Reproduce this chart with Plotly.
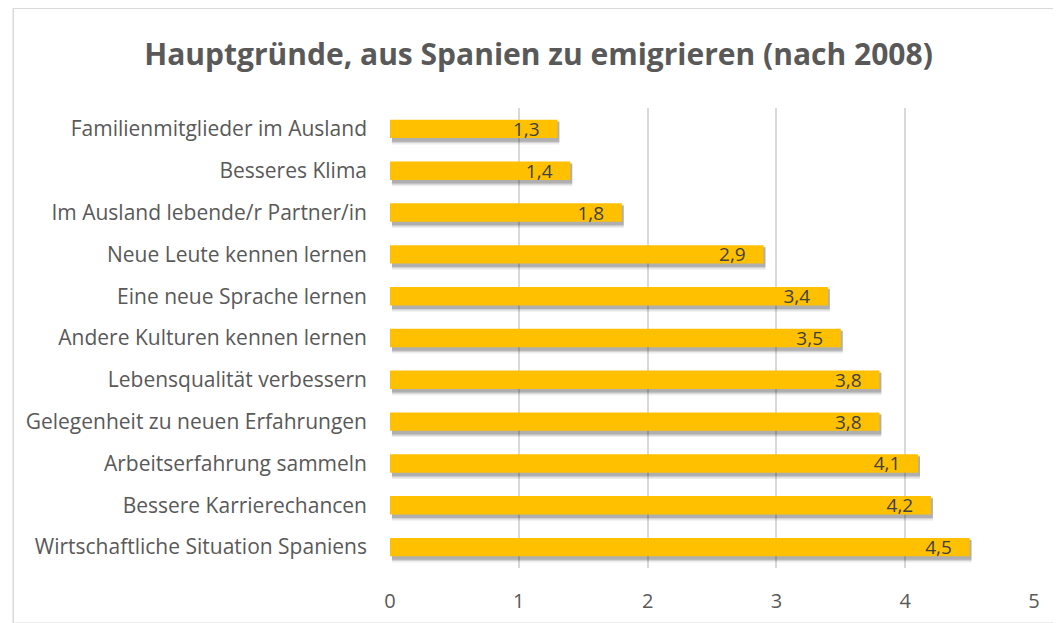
import plotly.graph_objects as go

categories = [
    "Familienmitglieder im Ausland",
    "Besseres Klima",
    "Im Ausland lebende/r Partner/in",
    "Neue Leute kennen lernen",
    "Eine neue Sprache lernen",
    "Andere Kulturen kennen lernen",
    "Lebensqualität verbessern",
    "Gelegenheit zu neuen Erfahrungen",
    "Arbeitserfahrung sammeln",
    "Bessere Karrierechancen",
    "Wirtschaftliche Situation Spaniens",
]
values = [1.3, 1.4, 1.8, 2.9, 3.4, 3.5, 3.8, 3.8, 4.1, 4.2, 4.5]
x_ticks = [0, 1, 2, 3, 4, 5]
title = "Hauptgründe, aus Spanien zu emigrieren (nach 2008)"

FONT = "Open Sans, sans-serif"
BW = 0.44

fig = go.Figure()
# soft shadow (layers to fake a blur, offset down/right)
for extra, shift, alpha in [(0.12, 0.09, 0.07), (0.07, 0.08, 0.11), (0.03, 0.07, 0.17)]:
    fig.add_trace(go.Bar(
        y=categories, x=values, orientation="h", base=0.015,
        width=BW + extra, offset=-BW / 2 - extra / 2 + shift,
        marker=dict(color=f"rgba(0,0,0,{alpha})", line=dict(width=0)),
        hoverinfo="skip", showlegend=False,
    ))
fig.add_trace(go.Bar(
    y=categories, x=values, orientation="h",
    width=BW, offset=-BW / 2,
    marker=dict(color="#FFC000", line=dict(width=0)),
    texttemplate="%{x:.1f}\u00a0\u00a0\u00a0", textposition="inside", insidetextanchor="end",
    constraintext="none",
    textfont=dict(family=FONT, size=19, color="#404040"),
    showlegend=False,
))

fig.update_layout(
    width=1061, height=623,
    barmode="overlay",
    separators=",.",
    paper_bgcolor="white", plot_bgcolor="white",
    margin=dict(l=382, r=35, t=100, b=63),
    title=dict(text=title, x=0.5, xref="container", xanchor="center", y=0.925, yanchor="middle",
               font=dict(family=FONT, size=30, color="#595959", weight="bold")),
    xaxis=dict(range=[0, 5], tickvals=x_ticks, showgrid=True, gridcolor="#D9D9D9", gridwidth=1.5,
               zeroline=False, showline=False, ticks="", ticklabelstandoff=19,
               tickfont=dict(family=FONT, size=20, color="#595959")),
    yaxis=dict(autorange="reversed", showgrid=False, ticks="", ticklen=0,
               tickfont=dict(family=FONT, size=21, color="#595959"),
               ticklabelstandoff=22, showline=False),
    shapes=[dict(type="rect", xref="paper", yref="paper", x0=-0.585, x1=1.05, y0=-0.12, y1=1.217,
                 line=dict(color="#D9D9D9", width=1.5), fillcolor="rgba(0,0,0,0)", layer="below")],
)

fig.write_html("out.html")
